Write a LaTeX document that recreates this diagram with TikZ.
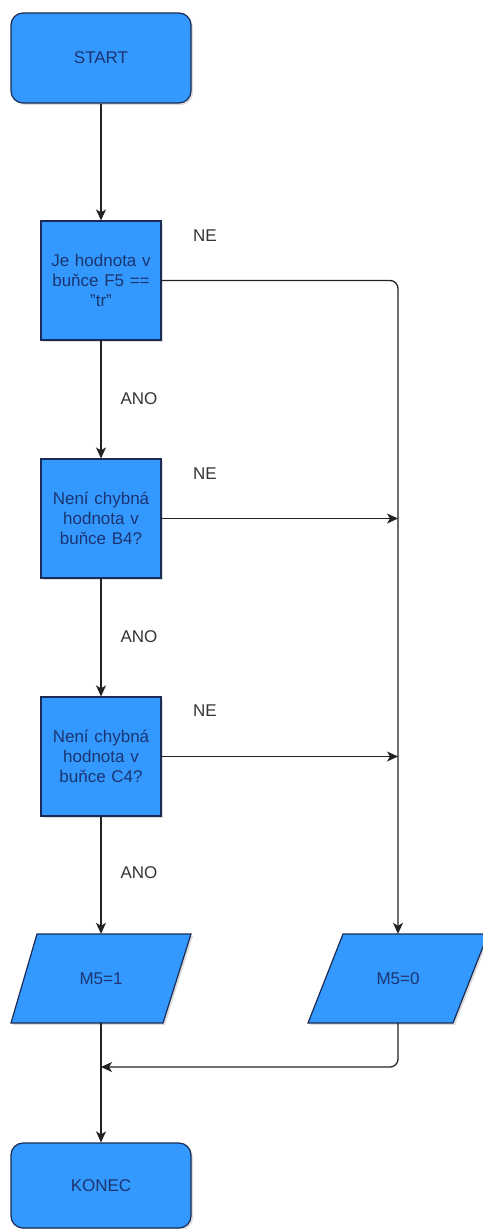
\documentclass[tikz,border=0pt]{standalone}
\usepackage{fontspec}
\setmainfont{Liberation Sans}
\usetikzlibrary{arrows.meta,shadows}
\definecolor{fillb}{HTML}{3399FF}
\definecolor{edgeb}{HTML}{1A2B55}
\definecolor{txtb}{HTML}{1C3470}
\definecolor{labg}{HTML}{333333}
\definecolor{linec}{HTML}{222222}
\begin{document}
\begin{tikzpicture}[x=1pt,y=-1pt,
  font=\fontsize{17}{20}\selectfont,
  myshadow/.style={drop shadow={opacity=0.22,shadow xshift=2pt,shadow yshift=-2pt,fill=black!60}},
  term/.style={draw=edgeb,line width=1.2pt,fill=fillb,rounded corners=12pt,minimum width=180pt,minimum height=90pt,text=txtb,myshadow},
  decis/.style={draw=edgeb,line width=1.2pt,fill=fillb,minimum width=120pt,minimum height=119pt,text=txtb,align=center,text width=116pt,inner sep=2pt,myshadow},
  iotext/.style={minimum width=120pt,minimum height=89pt,inner sep=0pt,text=txtb},
  iobox/.style={draw=edgeb,line width=1.2pt,fill=fillb,myshadow},
  lab/.style={text=labg,font=\fontsize{17}{20}\selectfont},
  conn/.style={draw=linec,line width=1.3pt,-{Stealth[length=11pt,width=10pt,inset=3pt]}},
]
\useasboundingbox (0,0) rectangle (482,1229);

\node[term] (start) at (101,58) {START};
\node[decis] (d1) at (101,280.5) {Je hodnota v\\buňce F5 ==\\"tr"};
\node[decis] (d2) at (101,518.5) {Není chybná\\hodnota v\\buňce B4?};
\node[decis] (d3) at (101,756.5) {Není chybná\\hodnota v\\buňce C4?};

% parallelograms
\path[iobox] (37,934) -- (191,934) -- (163,1023) -- (11,1023) -- cycle;
\node[iotext] (m1) at (101,978.5) {M5=1};
\path[iobox] (343,934) -- (488,934) -- (453,1023) -- (308,1023) -- cycle;
\node[iotext] (m0) at (398,978.5) {M5=0};

\node[term,minimum height=85pt] (konec) at (101,1185.5) {KONEC};

% junction coordinates
\coordinate (j2) at (398,518.5);
\coordinate (j3) at (398,756.5);
\coordinate (jr) at (101,1067);

% connectors
\draw[conn] (start.south) -- (d1.north);
\draw[conn] (d1.south) -- (d2.north);
\draw[conn] (d2.south) -- (d3.north);
\draw[conn] (d3.south) -- (m1.north);
\draw[conn] (m1.south) -- (konec.north);
\draw[conn,rounded corners=8pt] (d1.east) -| (m0.north);
\draw[conn] (d2.east) -- (j2);
\draw[conn] (d3.east) -- (j3);
\draw[conn,rounded corners=8pt] (m0.south) |- (jr);

% labels
\node[lab] (ne1) at (205,236) {NE};
\node[lab] (ne2) at (205,474) {NE};
\node[lab] (ne3) at (205,711) {NE};
\node[lab] (ano1) at (139,399) {ANO};
\node[lab] (ano2) at (139,637) {ANO};
\node[lab] (ano3) at (139,873) {ANO};
\end{tikzpicture}
\end{document}
